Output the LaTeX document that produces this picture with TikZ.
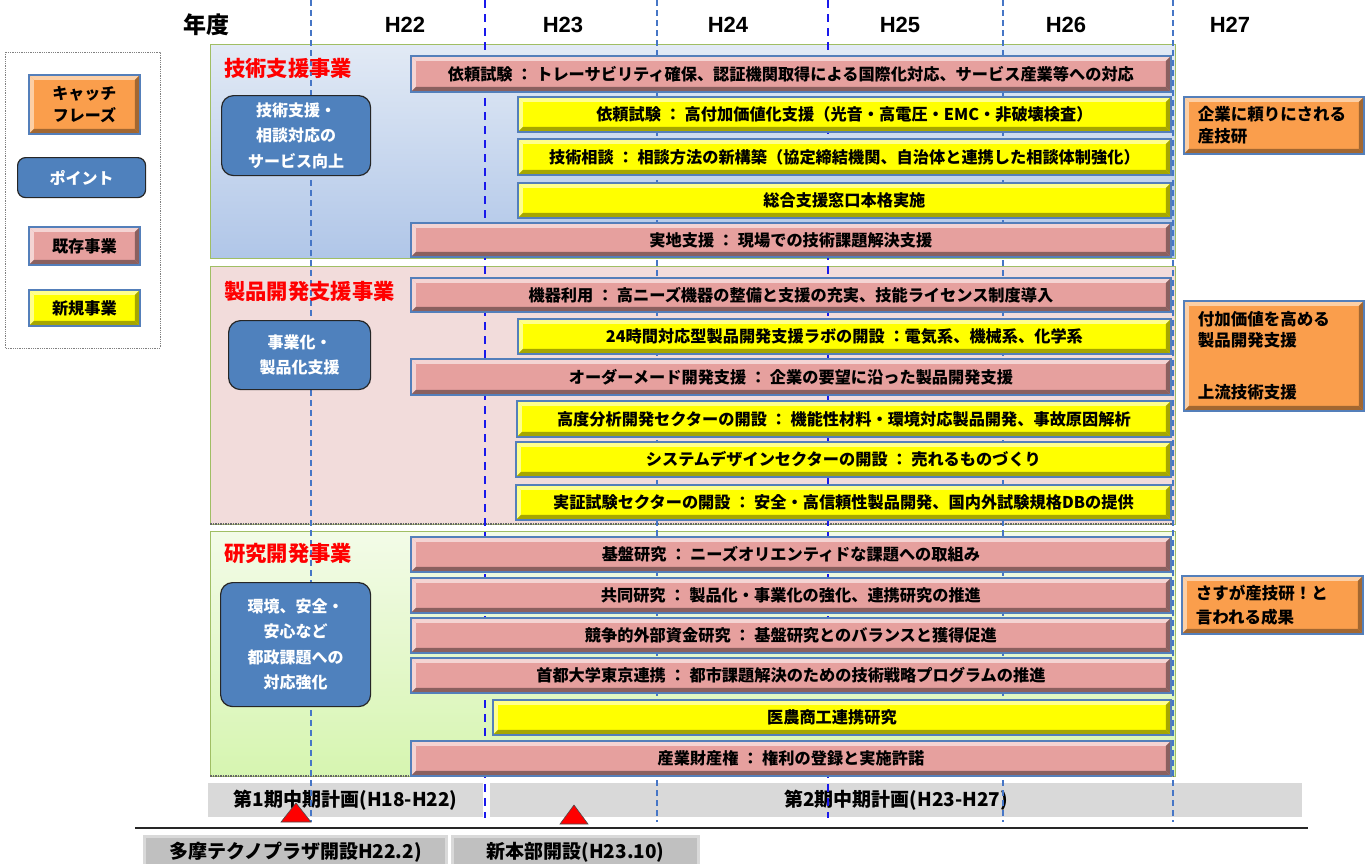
\documentclass[tikz,border=0pt]{standalone}
\usepackage{fontspec}
\setmainfont{Noto Sans CJK JP}
\newfontfamily\arialb{Liberation Sans}
\usetikzlibrary{calc}
\definecolor{pinkbar}{RGB}{230,160,158}
\definecolor{yelbar}{RGB}{255,255,0}
\definecolor{orabox}{RGB}{250,158,76}
\definecolor{barline}{RGB}{84,127,186}
\definecolor{ptblue}{RGB}{79,129,189}
\definecolor{panelline}{RGB}{160,190,100}
\definecolor{lightdash}{RGB}{70,118,198}
\definecolor{darkdash}{RGB}{25,25,235}
\definecolor{pgray}{RGB}{217,217,217}
\definecolor{egray}{RGB}{192,192,192}
\tikzset{
 bevel/.style 2 args={path picture={
   \fill[#1] (path picture bounding box.north west) -- (path picture bounding box.north east) -- ([shift={(-5pt,-5pt)}]path picture bounding box.north east) -- ([shift={(5pt,-5pt)}]path picture bounding box.north west) -- cycle;
   \fill[#1] (path picture bounding box.north west) -- (path picture bounding box.south west) -- ([shift={(5pt,5pt)}]path picture bounding box.south west) -- ([shift={(5pt,-5pt)}]path picture bounding box.north west) -- cycle;
   \fill[#2] (path picture bounding box.south west) -- (path picture bounding box.south east) -- ([shift={(-5pt,5pt)}]path picture bounding box.south east) -- ([shift={(5pt,5pt)}]path picture bounding box.south west) -- cycle;
   \fill[#2] (path picture bounding box.north east) -- (path picture bounding box.south east) -- ([shift={(-5pt,5pt)}]path picture bounding box.south east) -- ([shift={(-5pt,-5pt)}]path picture bounding box.north east) -- cycle;
 }},
 barbase/.style={draw=barline, line width=1.8pt, inner sep=0pt, anchor=north west, font=\fontsize{16.2}{18}\selectfont\bfseries, text=black},
 pinkb/.style={barbase, fill=pinkbar, bevel={pinkbar!45!white}{pinkbar!60!black}},
 yelb/.style={barbase, fill=yelbar, bevel={yelbar!45!white}{yelbar!65!black}},
 orab/.style={barbase, fill=orabox, bevel={orabox!50!white}{orabox!65!black}},
 ptbox/.style={draw=black!85, line width=1.2pt, fill=ptblue, rounded corners=12pt, anchor=north west, inner sep=0pt, align=center, text=white, font=\fontsize{16}{25.5}\selectfont\bfseries},
 sectitle/.style={anchor=west, text=red, inner sep=0pt, font=\fontsize{21.3}{24}\selectfont\bfseries},
 yearlbl/.style={inner sep=0pt, font=\arialb\fontsize{22}{24}\selectfont\bfseries},
 graybar/.style={fill=pgray, anchor=north west, inner sep=0pt, font=\fontsize{19}{22}\selectfont\bfseries},
 evbox/.style={fill=egray, draw=pgray, line width=3pt, anchor=north west, inner sep=0pt, font=\fontsize{19}{22}\selectfont\bfseries},
 ldash/.style={lightdash, line width=1.1pt, dash pattern=on 6pt off 4pt},
 ddash/.style={darkdash, line width=1.8pt, dash pattern=on 8pt off 6pt},
 redtri/.style={fill=red, draw=black!70, line width=0.6pt},
}
\newcommand\mkbar[7]{\node[#6, minimum width={#4pt-#2pt}, minimum height={#5pt-#3pt}] (#1) at (#2,#3) {#7};}
\begin{document}
\begin{tikzpicture}[x=1pt,y=-1pt]
\useasboundingbox (0,0) rectangle (1370,863);
% panels
\path[draw=panelline, line width=1pt, top color={rgb,255:red,226;green,234;blue,245}, bottom color={rgb,255:red,176;green,198;blue,232}] (210,44) rectangle (1175,258);
\path[draw=panelline, line width=1pt, fill={rgb,255:red,242;green,220;blue,219}] (210,266) rectangle (1175,524);
\path[draw=panelline, line width=1pt, top color={rgb,255:red,243;green,251;blue,232}, bottom color={rgb,255:red,214;green,245;blue,176}] (210,531) rectangle (1175,776);
\draw[black!60, line width=1.5pt, densely dotted] (210,524) -- (1175,524);
\draw[black!60, line width=1.5pt, densely dotted] (210,776) -- (1175,776);
% bottom period bars
\node[graybar, minimum width=275, minimum height=34] (p1) at (208,783) {第1期中期計画(H18-H22)};
\node[graybar, minimum width=812, minimum height=34] (p2) at (490,783) {第2期中期計画(H23-H27)};
% dashed year lines
\foreach \xx in {311,657,1003,1173} \draw[ldash] (\xx,0) -- (\xx,822);
\foreach \xx in {485,828} \draw[ddash] (\xx,0) -- (\xx,818);
% header
\node[anchor=west, inner sep=0pt, font=\fontsize{23}{26}\selectfont\bfseries] (nendo) at (183,25) {年度};
\node[yearlbl] (h22) at (405,25) {H22};
\node[yearlbl] (h23) at (563,25) {H23};
\node[yearlbl] (h24) at (728,25) {H24};
\node[yearlbl] (h25) at (900,25) {H25};
\node[yearlbl] (h26) at (1066,25) {H26};
\node[yearlbl] (h27) at (1230,25) {H27};
% legend
\draw[gray, densely dotted, line width=0.8pt] (5,52) rectangle (160,348);
\node[orab, minimum width=111, minimum height=59, align=center, font=\fontsize{16}{22}\selectfont\bfseries] (lg1) at (28,74) {キャッチ\\フレーズ};
\node[ptbox, minimum width=128, minimum height=40, rounded corners=8pt] (lg2) at (17,157) {ポイント};
\node[pinkb, minimum width=111, minimum height=38] (lg3) at (28,226) {既存事業};
\node[yelb, minimum width=111, minimum height=36] (lg4) at (28,289) {新規事業};
% section titles
\node[sectitle] (t1) at (224,68) {技術支援事業};
\node[sectitle] (t2) at (224,291) {製品開発支援事業};
\node[sectitle] (t3) at (224,553) {研究開発事業};
% point boxes
\node[ptbox, minimum width=149, minimum height=80] (b1) at (221,95) {技術支援・\\相談対応の\\サービス向上};
\node[ptbox, minimum width=142, minimum height=69] (b2) at (228,320) {事業化・\\製品化支援};
\node[ptbox, minimum width=150, minimum height=124] (b3) at (220,582) {環境、安全・\\安心など\\都政課題への\\対応強化};
% section 1 bars
\mkbar{a1}{410}{55}{1170}{91}{pinkb}{依頼試験 ： トレーサビリティ確保、認証機関取得による国際化対応、サービス産業等への対応}
\mkbar{a2}{517}{96}{1170}{131}{yelb}{依頼試験 ： 高付加価値化支援（光音・高電圧・EMC・非破壊検査）}
\mkbar{a3}{517}{138}{1170}{174}{yelb}{技術相談 ： 相談方法の新構築（協定締結機関、自治体と連携した相談体制強化）}
\mkbar{a4}{517}{182}{1170}{217}{yelb}{総合支援窓口本格実施}
\mkbar{a5}{410}{222}{1170}{256}{pinkb}{実地支援 ： 現場での技術課題解決支援}
% section 2 bars
\mkbar{c1}{410}{277}{1170}{311}{pinkb}{機器利用 ： 高ニーズ機器の整備と支援の充実、技能ライセンス制度導入}
\mkbar{c2}{517}{318}{1170}{353}{yelb}{24時間対応型製品開発支援ラボの開設 ：電気系、機械系、化学系}
\mkbar{c3}{410}{358}{1170}{394}{pinkb}{オーダーメード開発支援 ： 企業の要望に沿った製品開発支援}
\mkbar{c4}{516}{400}{1170}{436}{yelb}{高度分析開発セクターの開設 ： 機能性材料・環境対応製品開発、事故原因解析}
\mkbar{c5}{515}{441}{1170}{476}{yelb}{システムデザインセクターの開設 ： 売れるものづくり}
\mkbar{c6}{515}{484}{1170}{519}{yelb}{実証試験セクターの開設 ： 安全・高信頼性製品開発、国内外試験規格DBの提供}
% section 3 bars
\mkbar{r1}{410}{536}{1170}{571}{pinkb}{基盤研究 ： ニーズオリエンティドな課題への取組み}
\mkbar{r2}{410}{577}{1170}{612}{pinkb}{共同研究 ： 製品化・事業化の強化、連携研究の推進}
\mkbar{r3}{410}{617}{1170}{652}{pinkb}{競争的外部資金研究 ： 基盤研究とのバランスと獲得促進}
\mkbar{r4}{410}{657}{1170}{692}{pinkb}{首都大学東京連携 ： 都市課題解決のための技術戦略プログラムの推進}
\mkbar{r5}{492}{699}{1170}{734}{yelb}{医農商工連携研究}
\mkbar{r6}{410}{740}{1170}{775}{pinkb}{産業財産権 ： 権利の登録と実施許諾}
% right catch phrases
\node[orab, text width=152pt, inner xsep=14pt, minimum height=57, align=left, font=\fontsize{16.5}{22}\selectfont\bfseries] (o1) at (1183,96) {企業に頼りにされる\\産技研};
\node[orab, text width=152pt, inner xsep=14pt, minimum height=110, align=left, font=\fontsize{16.5}{21}\selectfont\bfseries] (o2) at (1183,300) {付加価値を高める\\製品開発支援\\[31pt]上流技術支援};
\node[orab, text width=153pt, inner xsep=14pt, minimum height=58, align=left, font=\fontsize{16.5}{24}\selectfont\bfseries] (o3) at (1181,575) {さすが産技研！と\\言われる成果};
% milestones
\fill[redtri] (281,822) -- (311,822) -- (296,803) -- cycle;
\fill[redtri] (560,824) -- (588,824) -- (574,805) -- cycle;
\draw[black!85, line width=1.2pt] (135,828) -- (1308,828);
\node[evbox, minimum width=302, minimum height=32] (e1) at (143,835) {多摩テクノプラザ開設H22.2)};
\node[evbox, minimum width=246, minimum height=32] (e2) at (451,835) {新本部開設(H23.10)};
\end{tikzpicture}
\end{document}
